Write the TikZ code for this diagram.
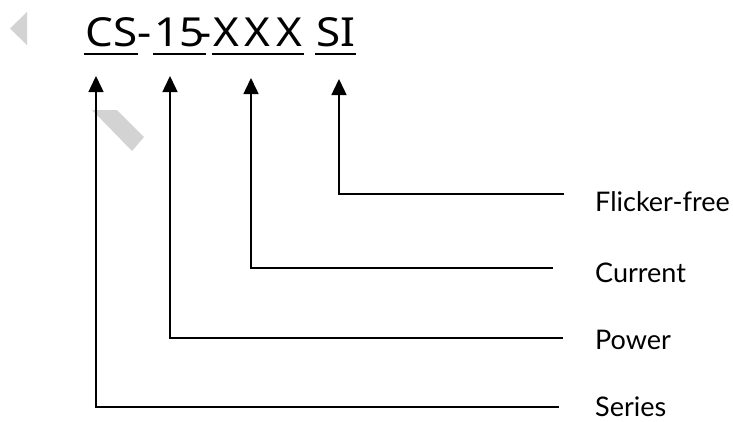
\documentclass[tikz,border=0pt]{standalone}
\usepackage{fontspec}
\setmainfont{Lato}
\newfontfamily\codefont[FakeStretch=1.1]{Noto Sans}
\usetikzlibrary{arrows.meta}
\definecolor{wmgrey}{HTML}{D3D3D3}
\tikzset{
  part/.style={inner sep=0pt, anchor=base west, font=\codefont\fontsize{40}{40}\selectfont},
  lbl/.style={inner sep=0pt, anchor=west, font=\fontsize{27}{27}\selectfont},
  ln/.style={line width=1.5pt},
  arr/.style={line width=1.5pt, -{Triangle[width=15pt,length=16pt]}}
}
\begin{document}
\begin{tikzpicture}[x=1pt,y=-1pt]
            \useasboundingbox (0,0) rectangle (733,421);

            % Grey marks
            \fill [wmgrey] (10,28.5) -- (27,12) -- (27,45) -- cycle;%
            \fill [wmgrey] (92,110) -- (117,110) -- (144,137) -- (132,151) -- cycle;%

            % Code parts
            \node [part] (cs) at (85,46) {CS};%
            \node [part, anchor=base] (d1) at (145,46) {-};%
            \node [part] (pw) at (154,46) {15};%
            \node [part, anchor=base] (d2) at (205,46) {-};%
            \node [part] (cu) at (213,46) {X\hspace{6pt}X\hspace{6pt}X};%
            \node [part] (fl) at (316,46) {SI};%

            % Underlines
            \foreach \p in {cs,pw,cu,fl}
              \draw [ln] ([yshift=-8pt,xshift=-1pt]\p.base west) -- ([yshift=-8pt,xshift=1pt]\p.base east);%

            % Labels
            \node [lbl] (lfl) at (595,202) {Flicker-free};%
            \node [lbl] (lcu) at (595,273) {Current};%
            \node [lbl] (lpw) at (595,340) {Power};%
            \node [lbl] (lse) at (595,407) {Series};%

            % Arrow ends
            \coordinate (tcs) at (96,76);%
            \coordinate (tpw) at (170,76);%
            \coordinate (tcu) at (251,78);%
            \coordinate (tfl) at (339,79);%
            \coordinate (efl) at (564,194);%
            \coordinate (ecu) at (553,268);%
            \coordinate (epw) at (563,338);%
            \coordinate (ese) at (559,407);%

            % Leader lines
            \draw [arr] (efl) -| (tfl);%
            \draw [arr] (ecu) -| (tcu);%
            \draw [arr] (epw) -| (tpw);%
            \draw [arr] (ese) -| (tcs);%
\end{tikzpicture}
\end{document}
